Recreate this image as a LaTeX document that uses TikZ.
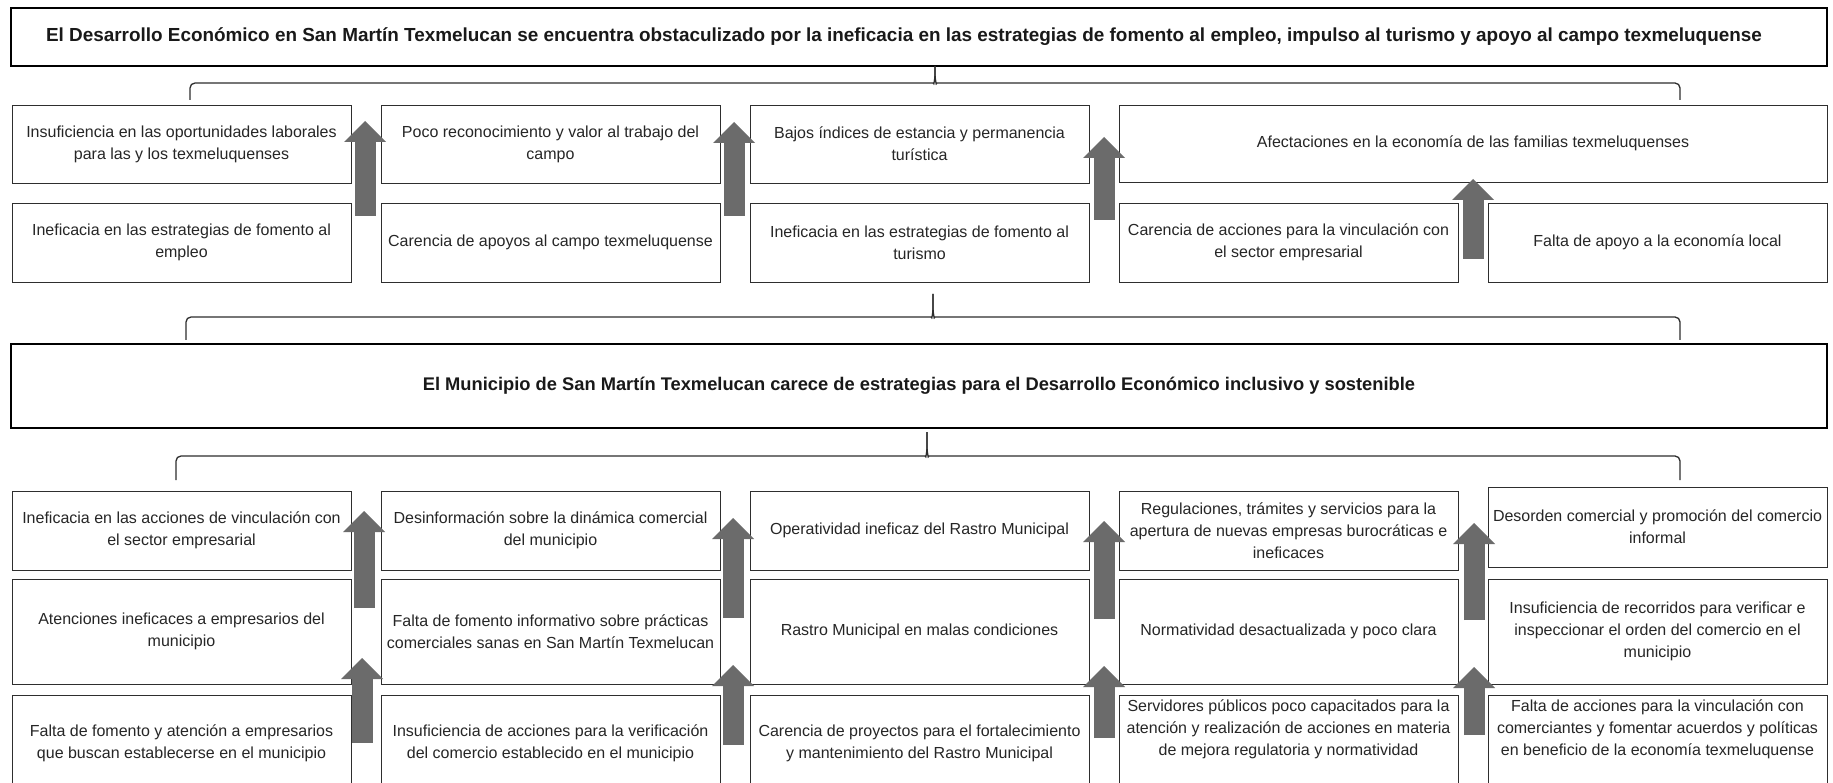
\documentclass[tikz,border=0pt]{standalone}
\usepackage{fontspec}
\setmainfont{Liberation Sans}
\usetikzlibrary{arrows.meta}
\definecolor{linegray}{HTML}{2E2E2E}
\definecolor{arrowgray}{HTML}{6B6B6B}
\newcommand{\cellfont}{\fontsize{16}{22}\selectfont}
\newcommand{\titlefont}{\fontsize{18.3}{22}\selectfont\bfseries}
% bracket under a title box: #1 line y, #2 drop, #3 left x, #4 centre x, #5 right x
\newcommand{\groupbrace}[5]{%
  \draw[brace] (#3,#1+#2) -- (#3,#1) -- (#4-7,#1) .. controls (#4-1,#1) .. (#4,#1-4) -- (#4,#1-#2);
  \draw[brace] (#4,#1-#2) -- (#4,#1-4) .. controls (#4+1,#1) .. (#4+7,#1) -- (#5,#1) -- (#5,#1+#2);
}
\tikzset{
  cell/.style={draw=linegray, line width=0.9pt, minimum width=339pt, inner sep=2pt,
    align=center, font=\cellfont, text=black!85},
  titlecell/.style={draw=black, line width=2.2pt, minimum width=1816pt, inner sep=2pt,
    align=center, font=\titlefont, text=black!90},
  uparrow/.style={draw=arrowgray, line width=21pt,
    -{Triangle[width=42pt, length=21pt, line width=0pt]}},
  brace/.style={draw=linegray, line width=1.3pt, rounded corners=5pt}
}

\begin{document}
\begin{tikzpicture}[x=1pt, y=-1pt]
    \useasboundingbox[fill=white] (0,0) rectangle (1833,783);

    % problema central y efectos
        \node (efecto) at (919,37) [titlecell, minimum height=58pt, font=\fontsize{18.9}{22}\selectfont\bfseries] {El Desarrollo Económico en San Martín Texmelucan se encuentra obstaculizado por la ineficacia en las estrategias de fomento al empleo, impulso al turismo y apoyo al campo texmeluquense\hspace*{30pt}};
        \groupbrace{83}{17}{190}{935}{1680}

        \node (a1) at (181.5,144) [cell, minimum height=78pt] {Insuficiencia en las oportunidades laborales\\para las y los texmeluquenses};
        \node (a2) at (550.5,144) [cell, minimum height=78pt] {Poco reconocimiento y valor al trabajo del\\campo};
        \node (a3) at (919.5,144) [cell, minimum height=78pt] {Bajos índices de estancia y permanencia\\turística};
        \node (a4) at (1473,143.5) [cell, minimum height=77pt, minimum width=708pt] {Afectaciones en la economía de las familias texmeluquenses};

        \node (b1) at (181.5,242.5) [cell, minimum height=79pt] {Ineficacia en las estrategias de fomento al\\empleo};
        \node (b2) at (550.5,242.5) [cell, minimum height=79pt] {Carencia de apoyos al campo texmeluquense};
        \node (b3) at (919.5,242.5) [cell, minimum height=79pt] {Ineficacia en las estrategias de fomento al\\turismo};
        \node (b4) at (1288.5,242.5) [cell, minimum height=79pt] {Carencia de acciones para la vinculación con\\el sector empresarial};
        \node (b5) at (1657.5,242.5) [cell, minimum height=79pt] {Falta de apoyo a la economía local};

        \coordinate (ab1) at (365,216);  \coordinate (at1) at (365,121);
        \coordinate (ab2) at (734,216);  \coordinate (at2) at (734,122);
        \coordinate (ab3) at (1104,220); \coordinate (at3) at (1104,137);
        \coordinate (ab4) at (1473,259); \coordinate (at4) at (1473,179);
        \draw[uparrow] (ab1) -- (at1);
        \draw[uparrow] (ab2) -- (at2);
        \draw[uparrow] (ab3) -- (at3);
        \draw[uparrow] (ab4) -- (at4);

        \groupbrace{317}{23}{186}{933}{1680}

    % problema y causas
        \node (problema) at (919,386) [titlecell, minimum height=84pt] {El Municipio de San Martín Texmelucan carece de estrategias para el Desarrollo Económico inclusivo y sostenible};
        \groupbrace{456}{24}{176}{927}{1680}

        \node (c1) at (181.5,530.5) [cell, minimum height=79pt] {Ineficacia en las acciones de vinculación con\\el sector empresarial};
        \node (c2) at (550.5,530.5) [cell, minimum height=79pt] {Desinformación sobre la dinámica comercial\\del municipio};
        \node (c3) at (919.5,530.5) [cell, minimum height=79pt] {Operatividad ineficaz del Rastro Municipal};
        \node (c4) at (1288.5,530.5) [cell, minimum height=79pt] {Regulaciones, trámites y servicios para la\\apertura de nuevas empresas burocráticas e\\ineficaces};
        \node (c5) at (1657.5,527) [cell, minimum height=80pt] {Desorden comercial y promoción del comercio\\informal};

        \node (d1) at (181.5,631.5) [cell, minimum height=105pt] {Atenciones ineficaces a empresarios del\\municipio};
        \node (d2) at (550.5,631.5) [cell, minimum height=105pt] {Falta de fomento informativo sobre prácticas\\comerciales sanas en San Martín Texmelucan};
        \node (d3) at (919.5,631.5) [cell, minimum height=105pt] {Rastro Municipal en malas condiciones};
        \node (d4) at (1288.5,631.5) [cell, minimum height=105pt] {Normatividad desactualizada y poco clara};
        \node (d5) at (1657.5,631.5) [cell, minimum height=105pt] {Insuficiencia de recorridos para verificar e\\inspeccionar el orden del comercio en el\\municipio};

        \node (e1) at (181.5,743) [cell, minimum height=96pt] {Falta de fomento y atención a empresarios\\que buscan establecerse en el municipio};
        \node (e2) at (550.5,743) [cell, minimum height=96pt] {Insuficiencia de acciones para la verificación\\del comercio establecido en el municipio};
        \node (e3) at (919.5,743) [cell, minimum height=96pt] {Carencia de proyectos para el fortalecimiento\\y mantenimiento del Rastro Municipal};
        \node (e4) at (1288.5,743) [cell, minimum height=96pt, text depth=30pt] {Servidores públicos poco capacitados para la\\atención y realización de acciones en materia\\de mejora regulatoria y normatividad};
        \node (e5) at (1657.5,743) [cell, minimum height=96pt, text depth=30pt] {Falta de acciones para la vinculación con\\comerciantes y fomentar acuerdos y políticas\\en beneficio de la economía texmeluquense};

        \coordinate (cb1) at (364,608);  \coordinate (ct1) at (364,511);
        \coordinate (cb2) at (733,618);  \coordinate (ct2) at (733,518);
        \coordinate (cb3) at (1104,619); \coordinate (ct3) at (1104,521);
        \coordinate (cb4) at (1474,620); \coordinate (ct4) at (1474,523);
        \draw[uparrow] (cb1) -- (ct1);
        \draw[uparrow] (cb2) -- (ct2);
        \draw[uparrow] (cb3) -- (ct3);
        \draw[uparrow] (cb4) -- (ct4);

        \coordinate (eb1) at (362,743);  \coordinate (et1) at (362,658);
        \coordinate (eb2) at (733,745);  \coordinate (et2) at (733,665);
        \coordinate (eb3) at (1104,738); \coordinate (et3) at (1104,666);
        \coordinate (eb4) at (1474,735); \coordinate (et4) at (1474,667);
        \draw[uparrow] (eb1) -- (et1);
        \draw[uparrow] (eb2) -- (et2);
        \draw[uparrow] (eb3) -- (et3);
        \draw[uparrow] (eb4) -- (et4);

  \end{tikzpicture}
\end{document}
